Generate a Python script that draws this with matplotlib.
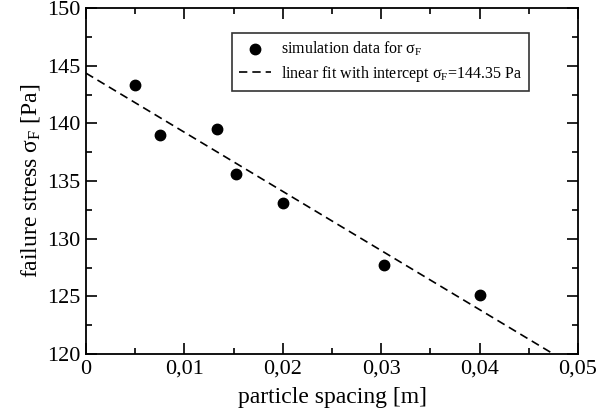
import matplotlib
matplotlib.use("Agg")
import matplotlib.pyplot as plt
from matplotlib.ticker import MultipleLocator, FuncFormatter
import numpy as np

plt.rcParams['font.family'] = ['Liberation Serif', 'DejaVu Serif']
plt.rcParams['mathtext.fontset'] = 'custom'
plt.rcParams['mathtext.rm'] = 'Liberation Serif'
plt.rcParams['mathtext.it'] = 'Liberation Serif:italic'

# simulation data
spacing = [0.0050, 0.0075, 0.0133, 0.0152, 0.0200, 0.0303, 0.0400]
stress = [143.3, 139.0, 139.5, 135.6, 133.1, 127.7, 125.1]

# linear fit
intercept = 144.35
slope = -512.6
fit_x = [0.0, 0.05]

fig = plt.figure(figsize=(6.04, 4.16), dpi=100)
ax = fig.add_axes([86 / 604, 1 - 354 / 416, 492 / 604, 346 / 416])

ax.plot(spacing, stress, 'o', color='black', markersize=7.5,
        label=r'simulation data for σ$_\mathrm{F}$')
fx = np.array(fit_x)
ax.plot(fx, intercept + slope * fx, '--', color='black', linewidth=1.2,
        dashes=(5, 3), label=r'linear fit with intercept σ$_\mathrm{F}$=144.35 Pa')

ax.set_xlim(0, 0.05)
ax.set_ylim(120, 150)
ax.xaxis.set_major_locator(MultipleLocator(0.01))
ax.xaxis.set_minor_locator(MultipleLocator(0.005))
ax.yaxis.set_major_locator(MultipleLocator(5))
ax.yaxis.set_minor_locator(MultipleLocator(2.5))
ax.xaxis.set_major_formatter(FuncFormatter(
    lambda v, p: '0' if abs(v) < 1e-9 else f'{v:.2f}'.replace('.', ',')))

ax.tick_params(which='both', direction='in', top=True, right=True,
               labelsize=16, width=1.2, colors='black', pad=4)
ax.tick_params(which='major', length=8)
ax.tick_params(which='minor', length=4)
for s in ax.spines.values():
    s.set_linewidth(1.3)

ax.set_xlabel('particle spacing [m]', fontsize=17, labelpad=6)
ax.set_ylabel(r'failure stress σ$_\mathrm{F}$ [Pa]', fontsize=17, labelpad=4)

leg = ax.legend(loc='upper left', bbox_to_anchor=(0.297, 0.928), fontsize=11.5,
                frameon=True, fancybox=False, edgecolor='black',
                handlelength=2, handletextpad=0.6, borderpad=0.45,
                labelspacing=0.35, borderaxespad=0)
leg.get_frame().set_linewidth(1.2)

fig.savefig('out.png', dpi=100)
